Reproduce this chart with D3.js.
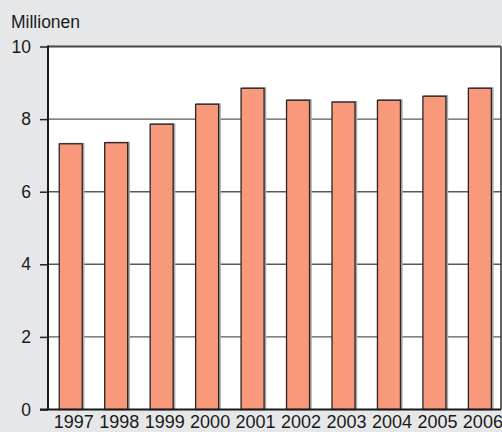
<!doctype html>
<html>
<head>
<meta charset="utf-8">
<style>
  body { margin: 0; background: #e6e7e9; }
  svg { display: block; font-family: "Liberation Sans", Arial, sans-serif; }
</style>
</head>
<body>
<svg id="chart" width="502" height="432"></svg>
<script src="https://cdn.jsdelivr.net/npm/d3@7"></script>
<script>
const years = ['1997', '1998', '1999', '2000', '2001', '2002', '2003', '2004', '2005', '2006'];
const values = [7.32, 7.35, 7.86, 8.41, 8.85, 8.52, 8.47, 8.52, 8.63, 8.85];
const yTicks = [0, 2, 4, 6, 8, 10];
const unitLabel = 'Millionen';

const svg = d3.select('#chart');
const plotLeft = 48, plotRight = 501, plotTop = 46.5, plotBottom = 409.5;

const x = d3.scaleBand()
  .domain(years)
  .range([plotLeft, 502.6])
  .paddingInner(0.494)
  .paddingOuter(0.247);

const y = d3.scaleLinear()
  .domain([0, 10])
  .range([plotBottom, plotTop]);

// plot background
svg.append('rect')
  .attr('x', plotLeft).attr('y', plotTop)
  .attr('width', plotRight - plotLeft).attr('height', plotBottom - plotTop)
  .attr('fill', '#fff');

// gridlines
svg.append('g')
  .selectAll('line')
  .data(yTicks.filter(d => d > 0))
  .join('line')
  .attr('x1', plotLeft).attr('x2', plotRight)
  .attr('y1', d => y(d)).attr('y2', d => y(d))
  .attr('stroke', d => d === 10 ? '#444' : '#5a5a5a')
  .attr('stroke-width', d => d === 10 ? 2 : 1.4);

// right border
svg.append('line')
  .attr('x1', plotRight).attr('x2', plotRight)
  .attr('y1', plotTop).attr('y2', plotBottom)
  .attr('stroke', '#333').attr('stroke-width', 1.5);

const bars = svg.append('g')
  .selectAll('g')
  .data(years.map((yr, i) => ({ yr, v: values[i] })))
  .join('g');

// soft shadow
bars.append('rect')
  .attr('x', d => x(d.yr) + 1)
  .attr('y', d => y(d.v) - 1)
  .attr('width', x.bandwidth() + 1.2)
  .attr('height', d => plotBottom - y(d.v) + 1)
  .attr('fill', '#a8a8a8');

bars.append('rect')
  .attr('x', d => x(d.yr))
  .attr('y', d => y(d.v))
  .attr('width', x.bandwidth())
  .attr('height', d => plotBottom - y(d.v))
  .attr('fill', '#f7997a')
  .attr('stroke', '#2a2626')
  .attr('stroke-width', 1.3);

// y axis
const yAxis = d3.axisLeft(y)
  .tickValues(yTicks)
  .tickSize(8)
  .tickPadding(9)
  .tickFormat(d3.format('d'));

const gy = svg.append('g')
  .attr('transform', `translate(${plotLeft},0)`)
  .call(yAxis);
gy.select('.domain').remove();
gy.selectAll('.tick line').attr('stroke', '#222').attr('stroke-width', 1.5);
gy.selectAll('.tick text')
  .attr('fill', '#1a1a1a')
  .style('font-size', '17.5px');

svg.append('line')
  .attr('x1', plotLeft).attr('x2', plotLeft)
  .attr('y1', plotTop - 1).attr('y2', plotBottom)
  .attr('stroke', '#1a1a1a').attr('stroke-width', 2);

// x axis
const xAxis = d3.axisBottom(x).tickSize(0).tickPadding(0);
const gx = svg.append('g')
  .attr('transform', `translate(0,${plotBottom})`)
  .call(xAxis);
gx.select('.domain').remove();
gx.selectAll('.tick text')
  .attr('y', 18.5)
  .attr('dy', 0)
  .attr('dx', 3)
  .attr('fill', '#1a1a1a')
  .style('font-size', '18px');

svg.append('line')
  .attr('x1', 40).attr('x2', plotRight)
  .attr('y1', plotBottom).attr('y2', plotBottom)
  .attr('stroke', '#1a1a1a').attr('stroke-width', 2);

svg.append('text')
  .attr('x', 11).attr('y', 28)
  .attr('fill', '#1a1a1a')
  .style('font-size', '17.5px')
  .text(unitLabel);
</script>
</body>
</html>
